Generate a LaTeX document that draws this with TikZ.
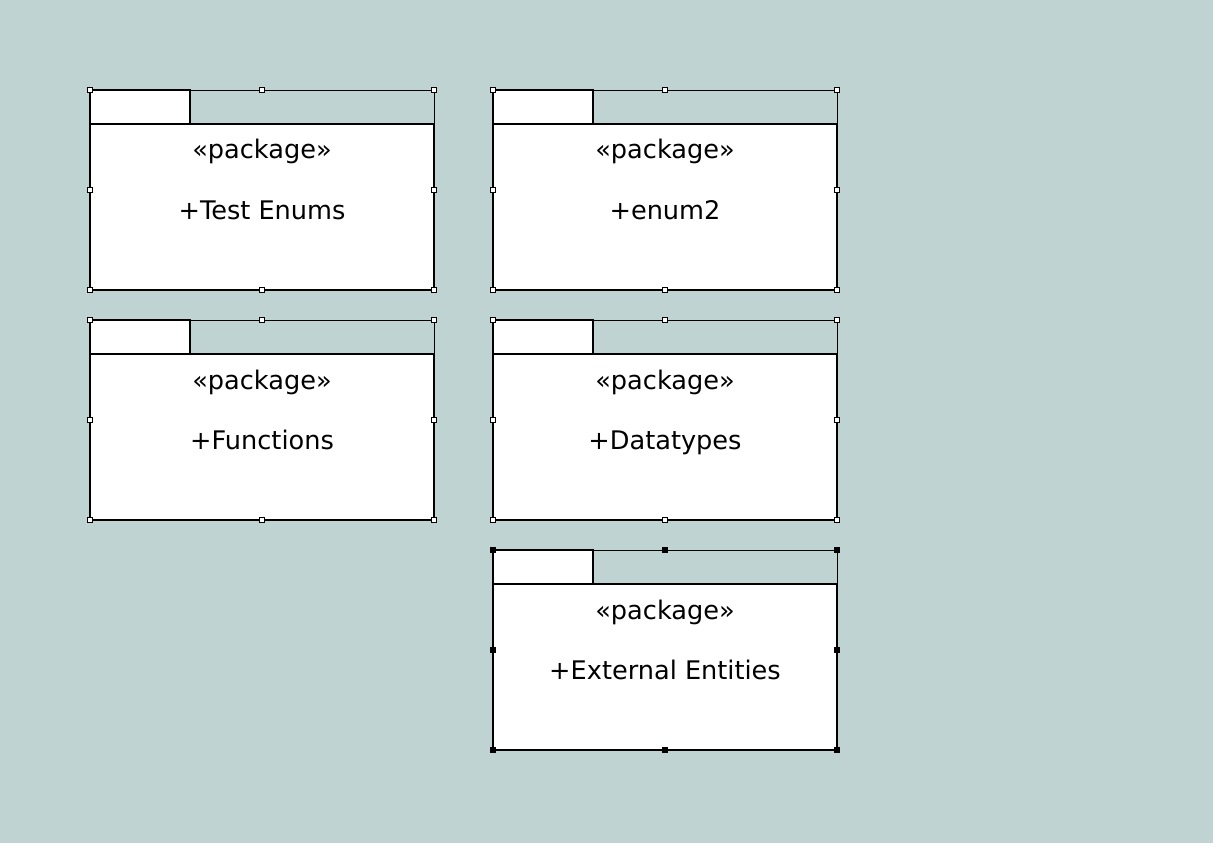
\documentclass[tikz,border=0pt]{standalone}
\usepackage{fontspec}
\setmainfont{DejaVu Sans}
\definecolor{bgcol}{RGB}{191,211,210}
\tikzset{
  pkgbody/.style={draw=black, fill=white, line width=1.8pt, minimum width=344pt, minimum height=166pt, anchor=north west, inner sep=0pt, outer sep=0pt},
  pkgtab/.style={draw=black, fill=white, line width=1.8pt, minimum width=100pt, minimum height=34pt, anchor=north west, inner sep=0pt, outer sep=0pt},
  selline/.style={draw=black, line width=0.8pt},
  pkgtext/.style={font=\fontsize{25.6}{29}\selectfont, anchor=base, inner sep=0pt},
  handle/.style={draw=black, line width=0.8pt, minimum size=5pt, inner sep=0pt, outer sep=0pt},
}
\newcommand\umlpkg[5]{%
  % #1 name, #2 x0, #3 y0, #4 label, #5 handle fill
  \node[pkgbody] (#1) at (#2,#3+34) {};
  \node[pkgtab] (#1tab) at (#2,#3) {};
  \coordinate (#1tr) at (#2+344,#3);
  \draw[selline] (#1tab.north east) -- (#1tr) -- (#1.north east);
  \node[pkgtext] (#1st) at (#2+172,#3+69) {«package»};
  \node[pkgtext] (#1nm) at (#2+172,#3+129) {#4};
  \foreach \hx/\hy/\hn in {0/0/a,172/0/b,344/0/c,0/100/d,344/100/e,0/200/f,172/200/g,344/200/h}{
    \node[handle, fill=#5] (#1h\hn) at (#2+\hx,#3+\hy) {};
  }%
}
\begin{document}
\begin{tikzpicture}[x=1pt,y=-1pt]
\fill[bgcol] (0,0) rectangle (1213,843);
\useasboundingbox (0,0) rectangle (1231,861);
\umlpkg{p1}{90}{90}{+Test Enums}{white}
\umlpkg{p2}{493}{90}{+enum2}{white}
\umlpkg{p3}{90}{320}{+Functions}{white}
\umlpkg{p4}{493}{320}{+Datatypes}{white}
\umlpkg{p5}{493}{550}{+External Entities}{black}
\end{tikzpicture}
\end{document}
